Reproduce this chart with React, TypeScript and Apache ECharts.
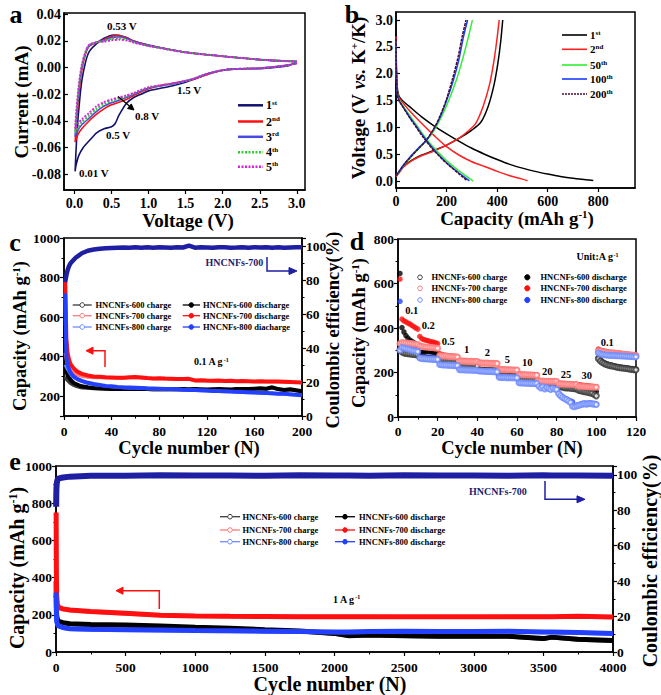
import React, { useEffect, useRef } from 'react';
import * as echarts from 'echarts';

const FONT = '"Liberation Serif", "Times New Roman", serif';

// ---------------- Panel a: CV curves (V, mA) ----------------
const cvLabels = ['1st', '2nd', '3rd', '4th', '5th'];
const cv1 = [[3.0,0.003],[2.95,0.0032],[2.9,0.0015],[2.7,0.0],[2.5,-0.0008],[2.2,-0.001],[2.0,-0.002],[1.8,-0.005],[1.6,-0.009],[1.5,-0.011],[1.3,-0.014],[1.0,-0.0175],[0.9,-0.02],[0.8,-0.0225],[0.7,-0.027],[0.6,-0.036],[0.55,-0.042],[0.5,-0.0445],[0.4,-0.046],[0.3,-0.049],[0.2,-0.055],[0.12,-0.06],[0.06,-0.066],[0.02,-0.074],[0.01,-0.078],
  [0.02,-0.065],[0.04,-0.045],[0.07,-0.025],[0.1,-0.01],[0.15,0.004],[0.2,0.012],[0.3,0.018],[0.4,0.022],[0.53,0.0245],[0.6,0.0242],[0.7,0.0225],[0.8,0.02],[1.0,0.017],[1.2,0.0145],[1.5,0.0115],[2.0,0.0085],[2.5,0.006],[2.8,0.005],[3.0,0.0045]];
const cv2 = [[3.0,0.003],[2.9,0.002],[2.7,0.0005],[2.5,-0.0005],[2.2,-0.001],[2.0,-0.002],[1.8,-0.005],[1.6,-0.009],[1.4,-0.011],[1.2,-0.013],[1.0,-0.016],[0.8,-0.021],[0.7,-0.024],[0.6,-0.026],[0.5,-0.028],[0.4,-0.031],[0.3,-0.035],[0.2,-0.04],[0.1,-0.046],[0.05,-0.05],[0.01,-0.056],
  [0.03,-0.04],[0.06,-0.02],[0.1,-0.002],[0.15,0.01],[0.2,0.016],[0.3,0.019],[0.4,0.021],[0.5,0.0235],[0.58,0.024],[0.7,0.0225],[0.8,0.02],[1.0,0.0165],[1.2,0.0145],[1.5,0.0115],[2.0,0.0085],[2.5,0.006],[2.8,0.005],[3.0,0.0045]];
const cv3 = [[3.0,0.0035],[2.9,0.002],[2.7,0.0005],[2.5,-0.0005],[2.2,-0.001],[2.0,-0.002],[1.8,-0.0045],[1.6,-0.0085],[1.4,-0.0115],[1.2,-0.0135],[1.0,-0.0155],[0.8,-0.02],[0.7,-0.0225],[0.6,-0.0245],[0.5,-0.0265],[0.4,-0.029],[0.3,-0.033],[0.2,-0.038],[0.1,-0.043],[0.05,-0.047],[0.01,-0.052],
  [0.03,-0.036],[0.06,-0.017],[0.1,0.0],[0.15,0.011],[0.2,0.0165],[0.3,0.019],[0.4,0.0205],[0.5,0.0225],[0.6,0.023],[0.7,0.022],[0.8,0.0195],[1.0,0.0165],[1.2,0.0145],[1.5,0.0115],[2.0,0.0085],[2.5,0.006],[2.8,0.005],[3.0,0.0045]];
const cv4 = [[3.0,0.0035],[2.9,0.002],[2.7,0.0005],[2.5,-0.0005],[2.2,-0.001],[2.0,-0.002],[1.8,-0.0045],[1.6,-0.0085],[1.4,-0.0115],[1.2,-0.0133],[1.0,-0.015],[0.8,-0.0195],[0.7,-0.0215],[0.6,-0.0235],[0.5,-0.025],[0.4,-0.0275],[0.3,-0.031],[0.2,-0.036],[0.1,-0.041],[0.05,-0.045],[0.01,-0.049],
  [0.03,-0.033],[0.06,-0.015],[0.1,0.001],[0.15,0.0115],[0.2,0.017],[0.3,0.019],[0.4,0.02],[0.5,0.0215],[0.6,0.022],[0.7,0.021],[0.8,0.019],[1.0,0.0163],[1.2,0.0143],[1.5,0.0115],[2.0,0.0085],[2.5,0.006],[2.8,0.005],[3.0,0.0045]];
const cv5 = [[3.0,0.0035],[2.9,0.002],[2.7,0.0005],[2.5,-0.0005],[2.2,-0.001],[2.0,-0.002],[1.8,-0.0045],[1.6,-0.0085],[1.4,-0.0112],[1.2,-0.013],[1.0,-0.0148],[0.8,-0.019],[0.7,-0.021],[0.6,-0.0225],[0.5,-0.024],[0.4,-0.026],[0.3,-0.029],[0.2,-0.034],[0.1,-0.039],[0.05,-0.042],[0.01,-0.046],
  [0.03,-0.03],[0.06,-0.013],[0.1,0.002],[0.15,0.012],[0.2,0.0172],[0.3,0.019],[0.4,0.0195],[0.5,0.0205],[0.6,0.021],[0.7,0.0205],[0.8,0.0188],[1.0,0.0162],[1.2,0.0142],[1.5,0.0113],[2.0,0.0085],[2.5,0.006],[2.8,0.005],[3.0,0.0045]];
const cvData = [cv1, cv2, cv3, cv4, cv5];
const cvColors = ['#12126e', '#ff1010', '#4a4ae0', '#2ecc2e', '#e020e0'];

// ---------------- Panel b: charge/discharge profiles ----------------
const bLabels = ['1st', '2nd', '50th', '100th', '200th'];
const b1dis = [[0,2.75],[1,2.3],[3,1.9],[6,1.7],[12,1.58],[25,1.5],[50,1.4],[100,1.2],[150,1.03],[200,0.88],[250,0.74],[300,0.61],[350,0.5],[400,0.4],[450,0.31],[500,0.24],[550,0.18],[600,0.13],[650,0.085],[700,0.05],[750,0.025],[780,0.01]];
const b1chg = [[0,0.1],[10,0.16],[30,0.27],[60,0.38],[100,0.48],[150,0.57],[200,0.67],[250,0.8],[300,0.95],[336,1.1],[365,1.4],[388,1.8],[403,2.2],[414,2.6],[422,3.0]];
const b2dis = [[0,2.7],[1,2.2],[3,1.85],[6,1.65],[12,1.55],[25,1.47],[50,1.33],[100,1.08],[150,0.85],[200,0.64],[250,0.48],[300,0.36],[350,0.27],[400,0.18],[450,0.1],[500,0.035],[520,0.005]];
const b2chg = [[0,0.08],[10,0.14],[30,0.26],[60,0.37],[100,0.47],[150,0.56],[200,0.67],[250,0.8],[290,0.95],[316,1.08],[345,1.4],[370,1.8],[386,2.2],[398,2.6],[408,3.0]];
const b50dis = [[0,2.6],[1,2.1],[3,1.8],[6,1.62],[12,1.52],[25,1.42],[50,1.25],[80,1.05],[110,0.85],[140,0.67],[170,0.52],[200,0.38],[230,0.26],[260,0.15],[290,0.05],[305,0.0]];
const b50chg = [[0,0.1],[10,0.16],[30,0.29],[60,0.45],[90,0.6],[120,0.75],[150,0.94],[180,1.2],[210,1.52],[240,1.9],[265,2.3],[287,2.7],[302,3.0]];
const b100dis = [[0,2.6],[1,2.1],[3,1.8],[6,1.6],[12,1.5],[25,1.4],[50,1.22],[80,1.02],[110,0.82],[140,0.64],[170,0.48],[200,0.34],[230,0.22],[260,0.11],[280,0.04],[290,0.0]];
const b100chg = [[0,0.1],[10,0.16],[30,0.3],[60,0.47],[90,0.62],[120,0.76],[150,0.97],[175,1.2],[200,1.5],[225,1.85],[248,2.25],[265,2.65],[283,3.0]];
const b200dis = [[0,2.65],[1,2.15],[3,1.82],[6,1.6],[12,1.5],[25,1.4],[50,1.21],[80,1.0],[110,0.8],[140,0.62],[170,0.47],[200,0.33],[230,0.21],[255,0.11],[275,0.03],[282,0.0]];
const b200chg = [[0,0.1],[10,0.16],[30,0.3],[60,0.46],[90,0.61],[120,0.76],[150,0.98],[175,1.22],[200,1.53],[222,1.88],[245,2.3],[262,2.7],[277,3.0]];
const bDis = [b1dis, b2dis, b50dis, b100dis, b200dis];
const bChg = [b1chg, b2chg, b50chg, b100chg, b200chg];
const bColors = ['#000000', '#ff2020', '#33ee33', '#1a3cff', '#4a0a2a'];

// ---------------- Panel c: 0.1 A/g cycling ----------------
const cCycles = [1,2,3,4,5,6,8,10,12,15,20,25,30,35,40,45,50,55,60,65,70,75,80,85,90,95,100,105,110,115,120,125,130,135,140,145,150,155,160,165,170,175,180,185,190,195,200];
const c600c = [300,285,278,272,266,262,255,250,246,242,240,238,237,236,235,234,234,235,235,234,234,233,234,233,234,233,234,233,234,233,232,233,234,233,232,234,235,234,236,238,236,243,234,230,233,228,223];
const c600d = [560,330,305,295,288,280,268,262,256,250,245,242,240,238,237,236,236,237,237,236,236,235,236,235,236,235,236,235,236,235,234,235,236,235,234,236,237,236,238,240,238,245,236,232,235,230,225];
const c700c = [420,380,360,345,335,328,318,312,306,300,296,294,293,292,292,291,291,293,294,292,290,288,289,287,286,285,285,286,278,279,277,276,277,275,276,274,275,274,273,274,272,273,272,271,270,269,268];
const c700d = [780,490,420,390,370,358,342,330,322,313,305,300,298,296,295,294,293,296,297,295,292,290,291,289,288,287,287,288,280,281,279,278,279,277,278,276,277,276,275,276,274,275,274,273,272,271,270];
const c800c = [360,345,335,325,315,308,296,288,281,274,265,260,255,251,248,245,243,242,241,240,238,237,236,235,234,233,231,230,229,228,227,225,224,223,222,220,219,218,217,215,214,213,211,210,208,206,203];
const c800d = [720,400,360,340,325,315,300,292,285,278,268,262,257,252,250,247,245,244,243,242,240,239,238,237,236,235,233,232,231,230,229,227,226,225,224,222,221,220,219,217,216,215,213,212,210,208,205];
const cCE = [79,83,86,88,89.5,90.5,92,93.5,94.5,96,97.5,98.2,98.6,98.9,99.1,99.3,99.4,99.2,99.5,99.3,99.6,99.2,99.5,99.4,99.3,99.6,99.4,100.5,99.3,99.5,99.4,99.2,99.6,99.5,99.3,99.4,99.6,99.2,99.5,99.4,99.6,99.3,99.5,99.2,99.4,99.6,99.5];
const cNames = ['HNCNFs-600 charge', 'HNCNFs-600 discharge', 'HNCNFs-700 charge', 'HNCNFs-700 discharge', 'HNCNFs-800 charge', 'HNCNFs-800 diacharge'];

// ---------------- Panel d: rate performance ----------------
const rateSteps = ['0.1', '0.2', '0.5', '1', '2', '5', '10', '20', '25', '30', '0.1'];
const d600c = [300,292,288,286,284,283,282,281,280,279, 268,266,265,264,263,263,262,262,261,261, 258,257,256,255,255,254,254,253,253,252, 233,233,232,232,231,231,231,230,230,230, 210,210,209,209,209,208,208,208,207,207, 186,186,185,185,185,184,184,184,183,183, 170,170,169,169,169,168,168,168,167,167, 155,155,154,154,154,153,153,153,152,152, 138,136,134,132,131,130,129,128,127,126, 120,118,116,114,112,110,108,106,100,95, 262,252,245,240,236,233,231,229,227,225, 223,221,220,219,218,217,215,214,213,212];
const d700c = [330,335,334,333,332,331,330,328,327,326, 320,318,316,315,314,313,312,311,310,309, 276,275,274,274,273,272,272,271,271,270, 252,252,251,251,250,250,250,249,249,249, 243,243,242,242,242,241,241,241,240,240, 214,213,213,213,212,212,212,211,211,211, 191,191,190,190,190,189,189,189,188,188, 162,162,162,161,161,161,160,160,160,159, 149,149,148,148,147,147,147,146,146,146, 138,138,137,137,136,136,135,135,134,134, 298,296,294,292,291,290,289,288,287,286, 285,284,283,282,281,280,279,278,277,276];
const d800c = [300,312,310,308,305,303,300,298,296,294, 265,263,262,262,261,261,260,260,259,259, 236,235,234,234,233,233,232,232,231,231, 213,212,212,211,211,211,210,210,210,209, 207,207,206,206,205,205,205,204,204,203, 179,178,178,178,177,177,177,176,176,176, 154,153,153,152,152,152,151,151,151,150, 138,130,136,126,133,128,124,130,126,123, 104,95,88,82,78,72,65,48,46,50, 52,55,58,60,58,60,61,59,58,56, 288,284,281,280,279,278,277,277,276,276, 275,275,274,274,273,273,272,272,271,271];
const d600d = [645,402,382,366,355,346,340,334,328,322, 292,290,291,293,296,294,292,290,288,285, 266,263,261,259,258,257,256,255,255,254, 236,235,235,234,234,233,233,232,232,231, 213,213,212,212,211,211,211,210,210,209, 189,188,188,188,187,187,186,186,186,185, 173,172,172,171,171,171,170,170,170,169, 158,158,157,157,157,156,156,156,155,155, 140,140,139,139,138,138,137,137,136,136, 124,123,122,121,120,119,118,117,116,115, 268,258,250,244,240,237,234,232,230,228, 226,224,223,222,221,220,218,217,216,215];
const d700d = [620,440,432,428,422,418,412,406,400,395, 362,352,348,345,343,340,338,336,333,330, 285,281,279,277,276,275,274,273,272,271, 255,254,253,253,252,252,251,251,250,250, 246,245,244,244,243,243,242,242,241,241, 216,215,215,214,214,213,213,213,212,212, 193,193,192,192,191,191,191,190,190,190, 164,164,163,163,162,162,161,161,161,160, 152,151,151,150,150,149,149,148,148,147, 145,144,143,142,141,140,139,138,137,136, 305,300,298,296,294,292,291,290,289,288, 287,286,285,284,283,282,281,280,279,278];
const d800d = [520,330,322,318,315,312,310,308,306,304, 275,272,271,270,270,269,268,268,267,266, 240,238,237,236,236,235,235,234,234,233, 215,214,214,213,213,212,212,212,211,211, 209,209,208,208,207,207,207,206,206,205, 181,180,180,180,179,179,179,178,178,178, 156,155,155,154,154,154,153,153,153,152, 140,132,138,128,135,130,126,132,128,125, 108,98,92,85,80,76,72,68,50,52, 55,58,60,62,60,62,63,61,60,58, 292,287,284,282,281,280,279,279,278,278, 277,277,276,276,275,275,274,274,273,273];
const dNames = ['HNCNFs-600 charge', 'HNCNFs-700 charge', 'HNCNFs-800 charge', 'HNCNFs-600 discharge', 'HNCNFs-700 discharge', 'HNCNFs-800 discharge'];

// ---------------- Panel e: 1 A/g long cycling ----------------
const eCycles = [1,2,3,5,10,20,50,100,250,500,750,1000,1250,1500,1750,2000,2100,2250,2500,2750,3000,3250,3500,3560,3750,4000];
const e600c = [360,280,230,190,172,162,156,150,146,143,138,131,126,118,111,98,86,90,86,83,84,83,70,78,66,60];
const e600d = [380,290,240,195,175,165,158,152,148,145,140,133,128,120,113,100,88,92,88,85,86,85,72,80,68,62];
const e700c = [620,460,360,280,248,236,230,224,216,206,197,193,191,190,189,189,189,189,188,188,188,189,189,189,191,187];
const e700d = [750,520,400,300,255,240,232,226,218,208,198,194,192,191,190,190,190,190,189,189,189,190,190,190,192,188];
const e800c = [300,230,190,160,146,137,129,123,120,118,116,113,112,110,108,106,106,108,110,108,108,110,106,106,103,98];
const e800d = [320,240,200,165,150,140,132,125,122,120,118,115,114,112,110,108,108,110,112,110,110,112,108,108,105,100];
const eCE = [82,88,92,95,97,98,98.5,99,99.5,99.5,99.8,99.6,99.7,99.5,99.8,99.6,99.7,99.5,99.8,99.6,99.7,99.5,99.8,99.6,99.7,99.5];
const eNames = ['HNCNFs-600 charge', 'HNCNFs-600 discharge', 'HNCNFs-700 charge', 'HNCNFs-700 discharge', 'HNCNFs-800 charge', 'HNCNFs-800 discharge'];

const colBlackC = '#3a3a3a', colBlack = '#000000', colRedC = '#ff7a7a', colRed = '#ff1010', colBlueC = '#6f8cff', colBlue = '#2340ff', colNavy = '#1f1fa3';

const pair = (xs: number[], ys: number[]) => xs.map((x, i) => [x, ys[i]]);
const idx = (ys: number[]) => ys.map((y, i) => [i + 1, y]);

const richSet = (size: number, color = '#000') => ({
  n: { fontSize: size, fontWeight: 'bold', fontFamily: FONT, verticalAlign: 'bottom', fill: color },
  s: { fontSize: Math.round(size * 0.6), fontWeight: 'bold', fontFamily: FONT, verticalAlign: 'top', fill: color },
  i: { fontSize: size, fontWeight: 'bold', fontStyle: 'italic', fontFamily: FONT, verticalAlign: 'bottom', fill: color },
});

function T(x: number, y: number, text: string, size: number, o: any = {}) {
  const align = o.align || 'left';
  return {
    type: 'text', x, y, rotation: o.rot || 0, z: 100,
    style: {
      text, font: `bold ${size}px ${FONT}`, fill: o.color || '#000',
      align, textAlign: align, verticalAlign: 'middle', textVerticalAlign: 'middle',
      rich: o.rich ? richSet(size, o.color || '#000') : undefined,
    },
  };
}
const supLabel = (s: string) => {
  const m = s.match(/^(\d+)(\D+)$/);
  return m ? `{n|${m[1]}}{s|${m[2]}}` : `{n|${s}}`;
};
const L = (x1: number, y1: number, x2: number, y2: number, color: string, w = 1.5, dash?: number[]) => ({
  type: 'line', z: 100, shape: { x1, y1, x2, y2 }, style: { stroke: color, lineWidth: w, lineDash: dash },
});
const P = (pts: number[][], color: string, w = 1.5) => ({ type: 'polyline', z: 100, shape: { points: pts }, style: { stroke: color, lineWidth: w, fill: null } });
const G = (pts: number[][], color: string) => ({ type: 'polygon', z: 100, shape: { points: pts }, style: { fill: color, stroke: color } });
const C = (cx: number, cy: number, r: number, color: string, filled: boolean) => ({
  type: 'circle', z: 101, shape: { cx, cy, r }, style: { fill: filled ? color : '#fff', stroke: color, lineWidth: 1 },
});

const tickLabel = (size = 14) => ({ fontFamily: FONT, fontWeight: 'bold', fontSize: size, color: '#000' });

function valAxis(gridIndex: number, min: number, max: number, o: any = {}) {
  return {
    type: 'value', gridIndex, min, max,
    interval: o.interval, splitNumber: o.splitNumber,
    position: o.position,
    axisLine: { show: true, onZero: false, lineStyle: { color: '#000', width: 1.5 } },
    axisTick: { show: true, inside: !!o.inside, length: 4, lineStyle: { color: '#000', width: 1.2 } },
    minorTick: { show: !!o.minor, splitNumber: 2, length: 2.5, lineStyle: { color: '#000', width: 1 } },
    splitLine: { show: false },
    axisLabel: {
      ...tickLabel(o.fs || 14), margin: o.margin ?? 5,
      showMinLabel: o.hideMin ? false : undefined, showMaxLabel: o.hideMax ? false : undefined,
      formatter: o.fmt || ((v: number) => String(v)),
    },
  };
}

export default function App() {
  const ref = useRef<HTMLDivElement>(null);
  useEffect(() => {
    if (!ref.current) return;
    const chart = echarts.init(ref.current, undefined, { renderer: 'svg' });

    const grids = [
      { left: 64, top: 13, width: 241, height: 177 },
      { left: 396, top: 12, width: 239, height: 176 },
      { left: 64, top: 238, width: 238, height: 178 },
      { left: 398, top: 239, width: 238, height: 178 },
      { left: 56, top: 466, width: 557, height: 186 },
    ].map((g) => ({ ...g, show: true, borderColor: '#000', borderWidth: 1.5, backgroundColor: 'transparent' }));

    const xAxis = [
      valAxis(0, -0.14, 3.11, { splitNumber: 7, hideMin: true, hideMax: true, fmt: (v: number) => v.toFixed(1), margin: 6 }),
      valAxis(1, 0, 945, { splitNumber: 5, hideMax: true, margin: 6 }),
      valAxis(2, 0, 200, { interval: 40, minor: true, fs: 13.5, margin: 8 }),
      valAxis(3, 0, 120, { interval: 20, minor: true, fs: 13.5, margin: 7 }),
      valAxis(4, 0, 4000, { interval: 500, minor: true, fs: 13.5, margin: 8 }),
    ];
    const yAxis = [
      valAxis(0, -0.092, 0.041, { splitNumber: 6, hideMin: true, hideMax: true, fmt: (v: number) => v.toFixed(2), margin: 3, inside: true }),
      valAxis(1, -0.13, 3.15, { splitNumber: 7, hideMin: true, hideMax: true, fmt: (v: number) => v.toFixed(1), margin: 3, inside: true }),
      valAxis(2, 100, 1000, { splitNumber: 5, hideMin: true, minor: true, fs: 13.5, margin: 4 }),
      valAxis(2, 0, 105, { splitNumber: 5, hideMax: true, minor: true, fs: 13.5, margin: 4, position: 'right' }),
      valAxis(3, 0, 800, { interval: 200, minor: true, fs: 13.5, margin: 4 }),
      valAxis(4, 0, 1000, { interval: 200, minor: true, fs: 13.5, margin: 4 }),
      valAxis(4, 0, 105, { splitNumber: 5, hideMax: true, minor: true, fs: 13.5, margin: 4, position: 'right' }),
    ];

    const line = (name: string, data: any, xi: number, yi: number, color: string, width: number, extra: any = {}) => ({
      type: 'line', name, data, xAxisIndex: xi, yAxisIndex: yi, showSymbol: false, symbol: 'none',
      lineStyle: { color, width, ...(extra.lineStyle || {}) }, itemStyle: { color }, smooth: extra.smooth ?? false,
      silent: true, z: extra.z ?? 2,
    });

    const series: any[] = [];
    // a
    cvData.forEach((d, i) => series.push(line(cvLabels[i], d, 0, 0, cvColors[i], i >= 3 ? 2 : 1.6,
      { smooth: 0.25, lineStyle: i >= 3 ? { type: [2, 1.5] } : {} })));
    // b
    bLabels.forEach((n, i) => {
      const ls = i === 4 ? { type: [3, 1] } : {};
      series.push(line(n, bDis[i], 1, 1, bColors[i], 1.5, { smooth: 0.3, lineStyle: ls }));
      series.push(line(n, bChg[i], 1, 1, bColors[i], 1.5, { smooth: 0.3, lineStyle: ls }));
    });
    // c
    const cVals = [c600c, c600d, c700c, c700d, c800c, c800d];
    const cCols = [colBlackC, colBlack, colRedC, colRed, colBlueC, colBlue];
    cVals.forEach((v, i) => series.push(line(cNames[i], pair(cCycles, v), 2, 2, cCols[i], i % 2 ? 4 : 3)));
    series.push(line('HNCNFs-700 CE', pair(cCycles, cCE), 2, 3, colNavy, 4.5, { z: 3 }));
    // d
    const dVals = [d600c, d700c, d800c, d600d, d700d, d800d];
    const dCols = [colBlackC, colRedC, colBlueC, colBlack, colRed, colBlue];
    dVals.forEach((v, i) => series.push({
      type: 'scatter', name: dNames[i], data: idx(v), xAxisIndex: 3, yAxisIndex: 4,
      symbol: i < 3 ? 'emptyCircle' : 'circle', symbolSize: i < 3 ? 5 : 5.5,
      itemStyle: { color: dCols[i], borderColor: dCols[i], borderWidth: i < 3 ? 1 : 0 }, silent: true, z: i < 3 ? 3 : 2,
    }));
    // e
    const eVals = [e600c, e600d, e700c, e700d, e800c, e800d];
    eVals.forEach((v, i) => series.push(line(eNames[i], pair(eCycles, v), 4, 5, cCols[i], i % 2 ? 5 : 4)));
    series.push(line('HNCNFs-700 CE', pair(eCycles, eCE), 4, 6, colNavy, 6, { z: 3 }));

    // ---- graphics: axis titles, labels, legends, annotations ----
    const g: any[] = [];
    const R = Math.PI / 2;
    // panel letters
    g.push(T(16, 14, 'a', 26, { align: 'center' }), T(352, 14, 'b', 26, { align: 'center' }),
      T(15, 242, 'c', 26, { align: 'center' }), T(357, 241, 'd', 26, { align: 'center' }), T(15, 461, 'e', 26, { align: 'center' }));
    // axis titles
    g.push(T(188, 220, 'Voltage (V)', 19, { align: 'center' }));
    g.push(T(21, 102, 'Current (mA)', 19, { align: 'center', rot: R }));
    g.push(T(517, 218, '{n|Capacity (mAh g}{s|-1}{n|)}', 19, { align: 'center', rich: true }));
    g.push(T(358, 98, '{n|Voltage (V }{i|vs.}{n| K}{s|+}{n|/K)}', 19, { align: 'center', rot: R, rich: true }));
    g.push(T(189, 448, 'Cycle number (N)', 18.5, { align: 'center' }));
    g.push(T(512, 448, 'Cycle number (N)', 18.5, { align: 'center' }));
    g.push(T(20, 336, '{n|Capacity (mAh g}{s|-1}{n|)}', 18.5, { align: 'center', rot: R, rich: true }));
    g.push(T(333, 330, 'Coulombic efficiency(%)', 18.5, { align: 'center', rot: R }));
    g.push(T(359, 333, '{n|Capacity (mAh g}{s|-1}{n|)}', 18.5, { align: 'center', rot: R, rich: true }));
    g.push(T(330, 684, 'Cycle number (N)', 20, { align: 'center' }));
    g.push(T(17, 568, '{n|Capacity (mAh g}{s|-1}{n|)}', 20, { align: 'center', rot: R, rich: true }));
    g.push(T(650, 561, 'Coulombic efficiency(%)', 20, { align: 'center', rot: R }));

    // panel a annotations
    g.push(T(107, 26, '0.53 V', 11), T(177, 90, '1.5 V', 11), T(135, 116, '0.8 V', 11), T(106, 135, '0.5 V', 11), T(79, 173, '0.01 V', 11));
    g.push(L(118, 96.5, 130, 106.5, '#000', 1.3), G([[134, 110], [127.5, 108.5], [131.3, 103.9]], '#000'));
    // panel a legend
    const aRows = [105.3, 121.5, 136.8, 152.3, 166.8];
    cvLabels.forEach((n, i) => {
      g.push(L(238, aRows[i], 263, aRows[i], cvColors[i], 2.5, i >= 3 ? [2, 1.5] : undefined));
      g.push(T(266, aRows[i], supLabel(n), 12, { rich: true }));
    });
    // panel b legend
    const bRows = [35, 49.3, 65, 79, 94];
    bLabels.forEach((n, i) => {
      g.push(L(562, bRows[i], 587, bRows[i], bColors[i], 1.6, i === 4 ? [2, 1] : undefined));
      g.push(T(590, bRows[i], supLabel(n), 11, { rich: true }));
    });
    // panel c legend
    const cRows = [305, 315.7, 327];
    for (let r = 0; r < 3; r++) {
      const lc = cCols[2 * r], rc = cCols[2 * r + 1];
      g.push(L(72.7, cRows[r], 91.7, cRows[r], lc, 1.3), C(82.2, cRows[r], 2.3, lc, false), T(95.5, cRows[r], cNames[2 * r], 8.5));
      g.push(L(182.7, cRows[r], 200, cRows[r], rc, 1.3), C(191.3, cRows[r], 2.3, rc, true), T(203, cRows[r], cNames[2 * r + 1], 8.5));
    }
    g.push(T(205.5, 262.7, 'HNCNFs-700', 10, { color: '#1c1c6e' }));
    g.push(P([[267, 257], [267, 271], [290, 271]], colNavy, 1.5), G([[297, 271], [289, 267.5], [289, 274.5]], colNavy));
    g.push(P([[105, 367], [105, 350.7], [92, 350.7]], colRed, 1.5), G([[86, 350.7], [93, 347.2], [93, 354.2]], colRed));
    g.push(T(194, 361.5, '{n|0.1 A g}{s|-1}', 10, { rich: true }));
    // panel d legend & labels
    const dRows = [277.3, 288.3, 300];
    for (let r = 0; r < 3; r++) {
      g.push(C(420, dRows[r], 2.3, dCols[r], false), T(431.5, dRows[r], dNames[r], 8.5));
      g.push(C(527.3, dRows[r], 2.6, dCols[r + 3], true), T(540.5, dRows[r], dNames[r + 3], 8.5));
    }
    g.push(T(576.5, 256.7, '{n|Unit:A g}{s|-1}', 10, { rich: true }));
    const ratePos = [[411.7, 310], [428.3, 325.7], [448.3, 341], [466.7, 349], [487.3, 352], [507.3, 359.3], [527.3, 362.7], [547.3, 371.7], [566, 374], [586.7, 375], [607.3, 342.3]];
    rateSteps.forEach((s, i) => g.push(T(ratePos[i][0], ratePos[i][1], s, 10.5, { align: 'center' })));
    // panel e legend & annotations
    const eRows = [516.7, 530, 541.7];
    for (let r = 0; r < 3; r++) {
      const lc = cCols[2 * r], rc = cCols[2 * r + 1];
      g.push(L(220, eRows[r], 240, eRows[r], lc, 1.3), C(230, eRows[r], 2.3, lc, false), T(242.5, eRows[r], eNames[2 * r], 8.5));
      g.push(L(335, eRows[r], 355, eRows[r], rc, 1.3), C(345, eRows[r], 2.3, rc, true), T(359, eRows[r], eNames[2 * r + 1], 8.5));
    }
    g.push(T(469, 491.7, 'HNCNFs-700', 10, { color: '#1c1c6e' }));
    g.push(P([[545, 481], [545, 499.3], [578, 499.3]], colNavy, 1.5), G([[585, 499.3], [577, 495.8], [577, 502.8]], colNavy));
    g.push(P([[159.3, 609], [159.3, 590.7], [122, 590.7]], colRed, 1.5), G([[116, 590.7], [123, 587.2], [123, 594.2]], colRed));
    g.push(T(333, 599, '{n|1 A g}{s|-1}', 10, { rich: true }));

    chart.setOption({
      animation: false,
      backgroundColor: '#fff',
      textStyle: { fontFamily: FONT },
      grid: grids,
      xAxis,
      yAxis,
      series,
      graphic: { elements: g },
    });
    return () => chart.dispose();
  }, []);
  return <div ref={ref} style={{ position: 'absolute', left: 0, top: 0, width: 661, height: 695 }} />;
}
